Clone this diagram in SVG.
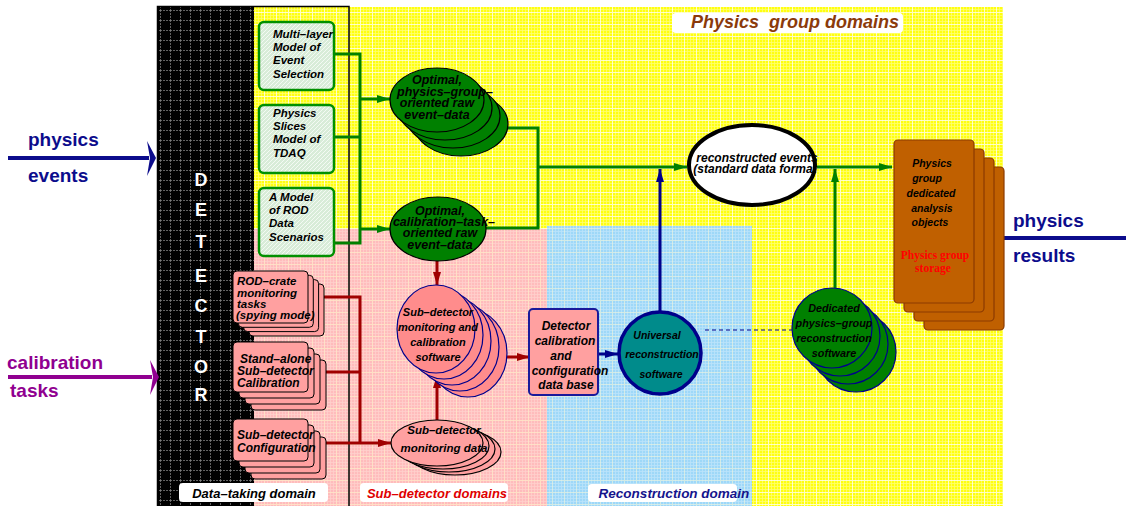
<svg xmlns="http://www.w3.org/2000/svg" width="1126" height="506" viewBox="0 0 1126 506">
<style>
.t{font-family:"Liberation Sans",Arial,sans-serif;font-weight:bold;font-style:italic;fill:#000}
.c{text-anchor:middle}
.big{font-family:"Liberation Sans",Arial,sans-serif;font-weight:bold}
.gbox{fill:url(#pG);stroke:#009000;stroke-width:2.5}
.pbox{fill:#ffa0a0;stroke:#000;stroke-width:1}
.gell{fill:#008000;stroke:#000;stroke-width:1.2}
.dell{fill:#008000;stroke:#00008b;stroke-width:1.2}
.sell{fill:#ff8c8c;stroke:#00008b;stroke-width:1.2}
.mell{fill:#ffa0a0;stroke:#000;stroke-width:1.2}
.brn{fill:#c06000;stroke:#8b3a00;stroke-width:1.2}
.lbl{fill:#fff}
.gl{fill:none;stroke:#008000;stroke-width:3}
.rl{fill:none;stroke:#a00000;stroke-width:3}
.bl{fill:none;stroke:#00008b;stroke-width:3}
</style>
<defs>
<pattern id="pY" width="12" height="12" patternUnits="userSpaceOnUse">
<rect width="12" height="12" fill="#ffff10"/>
<path d="M0 3.5H12M0 6.5H12M0 9.5H12M3.5 0V12M6.5 0V12M9.5 0V12" stroke="#fff" stroke-width="0.8" opacity="0.4"/>
<path d="M0 .5H12M.5 0V12" stroke="#fff" stroke-width="1" opacity="0.75"/>
</pattern>
<pattern id="pP" width="12" height="12" patternUnits="userSpaceOnUse">
<rect width="12" height="12" fill="#ffbcbc"/>
<path d="M0 3.5H12M0 6.5H12M0 9.5H12M3.5 0V12M6.5 0V12M9.5 0V12" stroke="#ffe4dc" stroke-width="0.8" opacity="0.5"/>
<path d="M0 .5H12M.5 0V12" stroke="#ffe8c8" stroke-width="1" opacity="0.8"/>
</pattern>
<pattern id="pB" width="12" height="12" patternUnits="userSpaceOnUse">
<rect width="12" height="12" fill="#9ed8f8"/>
<path d="M0 3.5H12M0 6.5H12M0 9.5H12M3.5 0V12M6.5 0V12M9.5 0V12" stroke="#fff" stroke-width="0.8" opacity="0.3"/>
<path d="M0 .5H12M.5 0V12" stroke="#e8f4e0" stroke-width="1" opacity="0.7"/>
</pattern>
<pattern id="pK" width="10" height="10" patternUnits="userSpaceOnUse">
<rect width="10" height="10" fill="#000"/>
<path d="M0 .5H10M.5 0V10" stroke="#8a8a8a" stroke-width="0.7" stroke-dasharray="2 1"/>
</pattern>
<pattern id="pG" width="4" height="4" patternUnits="userSpaceOnUse">
<rect width="4" height="4" fill="#d8ecd8"/>
<path d="M0 4L4 0M-1 1L1 -1M3 5L5 3" stroke="#fff" stroke-width="0.9" opacity="0.8"/>
</pattern>
<marker id="ag" markerWidth="14" markerHeight="10" refX="13" refY="5" orient="auto" markerUnits="userSpaceOnUse"><path d="M0,1 L13,5 L0,9 Z" fill="#008000"/></marker>
<marker id="ab" markerWidth="14" markerHeight="10" refX="13" refY="5" orient="auto" markerUnits="userSpaceOnUse"><path d="M0,1 L13,5 L0,9 Z" fill="#00008b"/></marker>
<marker id="ar" markerWidth="14" markerHeight="10" refX="13" refY="5" orient="auto" markerUnits="userSpaceOnUse"><path d="M0,1 L13,5 L0,9 Z" fill="#a00000"/></marker>
</defs>

<g id="background">
<rect x="254" y="7" width="749" height="499" fill="url(#pY)"/>
<rect x="254" y="229" width="293" height="277" fill="url(#pP)"/>
<rect x="547" y="226" width="205" height="280" fill="url(#pB)"/>
<rect x="157" y="6" width="97" height="500" fill="url(#pK)"/>
<rect x="157.5" y="6.5" width="191.5" height="510" fill="none" stroke="#000" stroke-width="1.5"/>
</g>

<g id="detector">
<text class="big" x="201" y="186" fill="#fff" font-size="18" text-anchor="middle">D</text>
<text class="big" x="201" y="216" fill="#fff" font-size="18" text-anchor="middle">E</text>
<text class="big" x="201" y="248" fill="#fff" font-size="18" text-anchor="middle">T</text>
<text class="big" x="201" y="282" fill="#fff" font-size="18" text-anchor="middle">E</text>
<text class="big" x="201" y="312" fill="#fff" font-size="18" text-anchor="middle">C</text>
<text class="big" x="201" y="343" fill="#fff" font-size="18" text-anchor="middle">T</text>
<text class="big" x="201" y="373" fill="#fff" font-size="18" text-anchor="middle">O</text>
<text class="big" x="201" y="401" fill="#fff" font-size="18" text-anchor="middle">R</text>
</g>

<g id="domain-labels">
<rect class="lbl" x="672" y="13" width="231" height="20" rx="4"/>
<text class="t" x="691" y="28" font-size="18" style="white-space:pre;fill:#8b3a0a">Physics  group domains</text>
<rect class="lbl" x="179" y="483" width="149" height="19" rx="4"/>
<text class="t c" x="254" y="498" font-size="13">Data–taking domain</text>
<rect class="lbl" x="360" y="483" width="148" height="19" rx="4"/>
<text class="t c" x="437" y="498" font-size="13" style="fill:#e00000">Sub–detector domains</text>
<rect class="lbl" x="588" y="484" width="149" height="18" rx="4"/>
<text class="t c" x="674" y="498" font-size="13.5" style="fill:#14148c">Reconstruction domain</text>
</g>

<g id="physics-events">
<rect x="8" y="156" width="141" height="4" fill="#0c0c8c"/>
<path d="M147,141 L156,158 L147,176 L150,158 Z" fill="#0c0c8c"/>
<text class="big" x="28" y="146" font-size="19" fill="#0c0c8c">physics</text>
<text class="big" x="28" y="182" font-size="19" fill="#0c0c8c">events</text>
</g>

<g id="calibration-tasks">
<rect x="8" y="375" width="144" height="4" fill="#900090"/>
<path d="M150,360 L159,377 L150,395 L153,377 Z" fill="#900090"/>
<text class="big" x="7" y="369" font-size="19" fill="#900090">calibration</text>
<text class="big" x="10" y="397" font-size="19" fill="#900090">tasks</text>
</g>

<g id="physics-results">
<rect x="1003" y="236" width="123" height="4" fill="#0c0c8c"/>
<text class="big" x="1013" y="227" font-size="19" fill="#0c0c8c">physics</text>
<text class="big" x="1013" y="262" font-size="19" fill="#0c0c8c">results</text>
</g>

<g id="connectors">
<path class="gl" d="M334,54 H360 V243 H334 M334,137 H360"/>
<path class="gl" d="M361,99 H390" marker-end="url(#ag)"/>
<path class="gl" d="M361,229 H390" marker-end="url(#ag)"/>
<path class="gl" d="M508,128 H538 V228 H486"/>
<path class="gl" d="M538,167 H687" marker-end="url(#ag)"/>
<path class="gl" d="M817,167 H892" marker-end="url(#ag)"/>
<path class="gl" d="M835,288 V169" marker-end="url(#ag)"/>
<path class="bl" d="M660,312 V169" marker-end="url(#ab)"/>
<path class="bl" d="M598,354 H618" marker-end="url(#ab)"/>
<path d="M705,330 H792" fill="none" stroke="#00008b" stroke-width="1.2" stroke-dasharray="4 3"/>
<path class="rl" d="M307,297 H360 V443 M307,372 H360"/>
<path class="rl" d="M307,443 H391" marker-end="url(#ar)"/>
<path class="rl" d="M437,261 V285" marker-end="url(#ar)"/>
<path class="rl" d="M437,420 V375" marker-end="url(#ar)"/>
<path class="rl" d="M507,357 H530" marker-end="url(#ar)"/>
</g>

<g id="model-event-selection">
<rect class="gbox" x="259" y="22" width="75" height="68" rx="5"/>
<text class="t" font-size="11.5"><tspan x="273" y="38">Multi–layer</tspan><tspan x="273" y="51">Model of</tspan><tspan x="273" y="64">Event</tspan><tspan x="273" y="78">Selection</tspan></text>
</g>
<g id="physics-slices">
<rect class="gbox" x="259" y="105" width="75" height="68" rx="5"/>
<text class="t" font-size="11.5"><tspan x="273" y="117">Physics</tspan><tspan x="273" y="130">Slices</tspan><tspan x="273" y="143">Model of</tspan><tspan x="273" y="157">TDAQ</tspan></text>
</g>
<g id="rod-data-scenarios">
<rect class="gbox" x="259" y="188" width="75" height="68" rx="5"/>
<text class="t" font-size="11.5"><tspan x="269" y="201">A Model</tspan><tspan x="269" y="214">of ROD</tspan><tspan x="269" y="227">Data</tspan><tspan x="269" y="241">Scenarios</tspan></text>
</g>

<g id="physics-raw-data">
<ellipse class="gell" cx="461" cy="124" rx="47" ry="32"/>
<ellipse class="gell" cx="453" cy="116" rx="47" ry="32"/>
<ellipse class="gell" cx="445" cy="108" rx="47" ry="32"/>
<ellipse class="gell" cx="437" cy="100" rx="47" ry="32"/>
<text class="t c" font-size="12.5"><tspan x="437" y="84">Optimal,</tspan><tspan x="445" y="96">physics–group–</tspan><tspan x="437" y="107">oriented raw</tspan><tspan x="437" y="119">event–data</tspan></text>
</g>

<g id="calibration-raw-data">
<ellipse class="gell" cx="438" cy="229" rx="48" ry="32"/>
<text class="t c" font-size="12.5"><tspan x="440" y="215">Optimal,</tspan><tspan x="444" y="226">calibration–task–</tspan><tspan x="440" y="237">oriented raw</tspan><tspan x="440" y="249">event–data</tspan></text>
</g>

<g id="reconstructed-events">
<ellipse cx="752" cy="165" rx="63" ry="40" fill="#fff" stroke="#000" stroke-width="4"/>
<text class="t c" font-size="12"><tspan x="757" y="162">reconstructed events</tspan><tspan x="755" y="173">(standard data format</tspan></text>
</g>

<g id="analysis-objects">
<rect class="brn" x="924" y="167" width="80" height="163" rx="4"/>
<rect class="brn" x="914" y="158" width="80" height="163" rx="4"/>
<rect class="brn" x="904" y="149" width="80" height="163" rx="4"/>
<rect class="brn" x="894" y="140" width="80" height="163" rx="4"/>
<text class="t c" font-size="10.5"><tspan x="932" y="167">Physics</tspan><tspan x="927" y="182">group</tspan><tspan x="931" y="197">dedicated</tspan><tspan x="932" y="212">analysis</tspan><tspan x="930" y="226">objects</tspan></text>
<text x="935" y="259" font-family="'Liberation Serif','Times New Roman',serif" font-weight="bold" font-size="11.5" fill="#ff0000" text-anchor="middle">Physics group</text>
<text x="933" y="272" font-family="'Liberation Serif','Times New Roman',serif" font-weight="bold" font-size="11.5" fill="#ff0000" text-anchor="middle">storage</text>
</g>

<g id="rod-crate-monitoring">
<rect class="pbox" x="249" y="284" width="75" height="52" rx="4"/>
<rect class="pbox" x="243.6" y="279.6" width="75" height="52" rx="4"/>
<rect class="pbox" x="238.3" y="275.3" width="75" height="52" rx="4"/>
<rect class="pbox" x="233" y="271" width="75" height="52" rx="4"/>
<text class="t" font-size="11.5"><tspan x="237" y="285">ROD–crate</tspan><tspan x="237" y="296.5">monitoring</tspan><tspan x="237" y="308">tasks</tspan><tspan x="236" y="319">(spying mode)</tspan></text>
</g>
<g id="standalone-calibration">
<rect class="pbox" x="251" y="360" width="75" height="50" rx="4"/>
<rect class="pbox" x="245" y="354" width="75" height="50" rx="4"/>
<rect class="pbox" x="239" y="348" width="75" height="50" rx="4"/>
<rect class="pbox" x="233" y="342" width="75" height="50" rx="4"/>
<text class="t" font-size="12"><tspan x="240" y="363">Stand–alone</tspan><tspan x="237" y="375">Sub–detector</tspan><tspan x="237" y="387">Calibration</tspan></text>
</g>
<g id="subdetector-configuration">
<rect class="pbox" x="251" y="437" width="75" height="42" rx="4"/>
<rect class="pbox" x="245" y="431" width="75" height="42" rx="4"/>
<rect class="pbox" x="239" y="425" width="75" height="42" rx="4"/>
<rect class="pbox" x="233" y="419" width="75" height="42" rx="4"/>
<text class="t" font-size="12"><tspan x="237" y="439">Sub–detector</tspan><tspan x="237" y="452">Configuration</tspan></text>
</g>

<g id="subdetector-monitoring-calibration-software">
<ellipse class="sell" cx="468" cy="353" rx="39" ry="44"/>
<ellipse class="sell" cx="460" cy="347" rx="39" ry="44"/>
<ellipse class="sell" cx="452" cy="341" rx="39" ry="44"/>
<ellipse class="sell" cx="444" cy="335" rx="39" ry="44"/>
<ellipse class="sell" cx="436" cy="329" rx="39" ry="44"/>
<text class="t c" font-size="11"><tspan x="438" y="316">Sub–detector</tspan><tspan x="438" y="331">monitoring and</tspan><tspan x="438" y="346">calibration</tspan><tspan x="438" y="361">software</tspan></text>
</g>

<g id="subdetector-monitoring-data">
<ellipse class="mell" cx="455" cy="452" rx="46" ry="23"/>
<ellipse class="mell" cx="449" cy="449" rx="46" ry="23"/>
<ellipse class="mell" cx="443" cy="446" rx="46" ry="23"/>
<ellipse class="mell" cx="437" cy="443" rx="46" ry="23"/>
<text class="t c" font-size="11.5"><tspan x="444" y="434">Sub–detector</tspan><tspan x="444" y="452">monitoring data</tspan></text>
</g>

<g id="detector-calibration-db">
<rect x="529" y="309" width="69" height="86" rx="4" fill="#ffa0a0" stroke="#1a1a9a" stroke-width="2"/>
<text class="t c" font-size="12"><tspan x="566" y="330">Detector</tspan><tspan x="565" y="345">calibration</tspan><tspan x="561" y="360">and</tspan><tspan x="570" y="375">configuration</tspan><tspan x="566" y="389">data base</tspan></text>
</g>

<g id="universal-reconstruction">
<circle cx="660" cy="353" r="41" fill="#008b8b" stroke="#00008b" stroke-width="3.5"/>
<text class="t c" font-size="10.5"><tspan x="657" y="339">Universal</tspan><tspan x="662" y="358">reconstruction</tspan><tspan x="661" y="378">software</tspan></text>
</g>

<g id="dedicated-reconstruction">
<ellipse class="dell" cx="856" cy="352" rx="40" ry="40"/>
<ellipse class="dell" cx="848" cy="344" rx="40" ry="40"/>
<ellipse class="dell" cx="840" cy="336" rx="40" ry="40"/>
<ellipse class="dell" cx="832" cy="328" rx="40" ry="40"/>
<text class="t c" font-size="10.8"><tspan x="834" y="312">Dedicated</tspan><tspan x="834" y="327">physics–group</tspan><tspan x="834" y="342">reconstruction</tspan><tspan x="834" y="357">software</tspan></text>
</g>
</svg>
